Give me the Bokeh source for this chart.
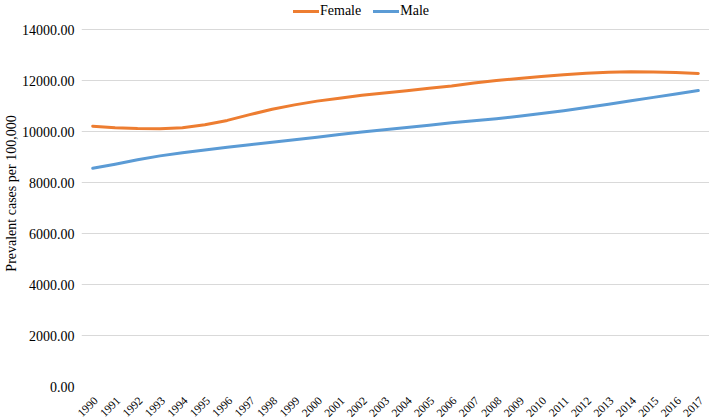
import math
from bokeh.plotting import figure
from bokeh.models import Legend, LegendItem, NumeralTickFormatter, FixedTicker, Range1d
from bokeh.core.properties import value
from bokeh.embed import file_html
from bokeh.resources import INLINE

years = [str(y) for y in range(1990, 2018)]
female = [10210, 10150, 10115, 10107, 10150, 10266, 10437, 10663, 10875, 11046,
          11193, 11310, 11420, 11510, 11600, 11700, 11790, 11900, 12000, 12080,
          12160, 12230, 12290, 12330, 12345, 12340, 12320, 12280]
male = [8557, 8720, 8890, 9046, 9165, 9272, 9380, 9483, 9582, 9682,
        9780, 9881, 9985, 10070, 10160, 10250, 10345, 10425, 10505, 10600,
        10705, 10815, 10943, 11070, 11208, 11340, 11475, 11607]
y_ticks = [0, 2000, 4000, 6000, 8000, 10000, 12000, 14000]

FONT = "Liberation Serif"

p = figure(x_range=years, y_range=Range1d(0, 15140), width=709, height=420,
           output_backend="svg", toolbar_location=None,
           min_border_left=81, min_border_right=0, min_border_top=0, min_border_bottom=34)

r1 = p.line(years, female, line_color="#ED7D31", line_width=3, line_join="round", line_cap="round")
r2 = p.line(years, male, line_color="#5B9BD5", line_width=3, line_join="round", line_cap="round")

# x tick labels drawn as rotated text below the baseline
p.text(x=years, y=[y_ticks[0]] * len(years), text=years, angle=math.pi / 4,
       text_align="right", text_baseline="middle", x_offset=3, y_offset=12,
       text_font=value(FONT), text_font_size="11.5px", text_color="#000000",
       level="overlay")

legend = Legend(items=[LegendItem(label="Female", renderers=[r1]),
                       LegendItem(label="Male", renderers=[r2])],
                orientation="horizontal", location=(212, 367),
                label_text_font=FONT, label_text_font_size="14px",
                label_text_color="#000000", glyph_width=26, glyph_height=14,
                label_height=14, label_standoff=1, spacing=12, padding=0, margin=0,
                border_line_color=None, background_fill_alpha=0)
p.add_layout(legend)

p.outline_line_color = None
p.xgrid.grid_line_color = None
p.ygrid.grid_line_color = "#d9d9d9"
p.ygrid.grid_line_width = 1

p.yaxis.ticker = FixedTicker(ticks=y_ticks)
p.yaxis.formatter = NumeralTickFormatter(format="0.00")
p.yaxis.axis_line_color = None
p.yaxis.major_tick_line_color = None
p.yaxis.minor_tick_line_color = None
p.yaxis.major_tick_out = 0
p.yaxis.major_tick_in = 0
p.yaxis.major_label_text_font = FONT
p.yaxis.major_label_text_font_size = "14px"
p.yaxis.major_label_text_color = "#000000"
p.yaxis.axis_label = "Prevalent cases per 100,000"
p.yaxis.axis_label_text_font = FONT
p.yaxis.axis_label_text_font_size = "14px"
p.yaxis.axis_label_text_font_style = "normal"
p.yaxis.axis_label_text_color = "#000000"
p.yaxis.axis_label_standoff = 0
p.yaxis.major_label_standoff = 7

p.xaxis.visible = False
p.x_range.range_padding = 0

open("out.html", "w").write(file_html(p, INLINE))
